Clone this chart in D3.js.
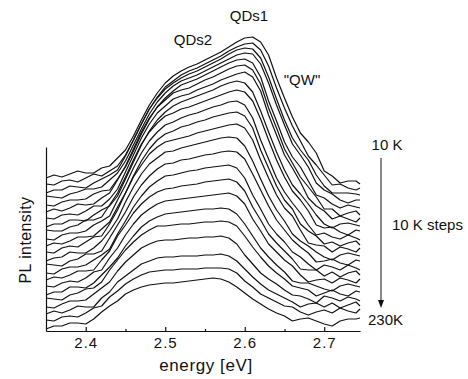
<!DOCTYPE html>
<html>
<head>
<meta charset="utf-8">
<script src="https://cdn.jsdelivr.net/npm/d3@7"></script>
<style>
body { margin: 0; background: #fff; }
svg text { font-family: "Liberation Sans", Arial, Helvetica, sans-serif; fill: #111; }
</style>
</head>
<body>
<div class="linechart"></div>
<script>
// photon energy (eV) of every sample
var energy = [2.35,2.36,2.37,2.38,2.39,2.40,2.41,2.42,2.43,2.44,2.45,2.46,2.47,2.48,2.49,2.50,2.51,2.52,2.53,2.54,2.55,2.56,2.57,2.58,2.59,2.60,2.61,2.62,2.63,2.64,2.65,2.66,2.67,2.68,2.69,2.70,2.71,2.72,2.73,2.74,2.745];

// PL spectra, already shifted up (stacked), arbitrary units
var pl10K  = [153,156,154,157,160,158,158,163,165,173,181,195,211,226,238,248,255,260,264,267,271,275,279,284,289,293,294,289,276,253,233,214,198,189,178,160,155,148,150,150,147];
var pl20K  = [147,146,150,151,149,153,157,155,160,165,176,191,207,222,234,244,250,256,260,263,267,271,275,280,284,287,288,281,265,243,223,205,190,175,166,156,146,147,143,141,143];
var pl30K  = [138,141,141,145,144,143,148,152,156,161,175,191,207,222,233,242,248,253,257,260,264,268,272,277,281,283,282,273,254,232,211,193,181,171,156,145,138,138,138,137,136];
var pl40K  = [135,134,133,137,139,142,142,144,151,158,170,186,202,217,229,238,245,250,253,256,260,264,268,272,276,278,277,267,248,226,206,187,176,164,148,141,137,131,128,131,131];
var pl50K  = [126,125,129,131,131,132,137,140,141,152,164,180,197,212,224,233,240,246,249,252,256,260,264,268,271,272,268,254,230,210,189,174,164,150,136,133,127,123,126,124,123];
var pl60K  = [119,122,120,123,127,126,127,133,138,151,165,182,199,213,224,231,238,241,243,247,251,254,258,262,265,266,261,247,223,203,182,168,154,144,134,122,122,115,118,120,116];
var pl70K  = [113,112,116,117,116,120,125,125,132,142,159,176,193,207,218,225,232,235,237,241,244,247,251,254,257,259,254,240,216,196,176,163,149,133,125,120,112,115,112,109,113];
var pl80K  = [104,107,107,111,111,110,116,121,125,135,152,169,186,200,211,219,225,229,232,235,238,241,245,248,250,248,239,220,199,179,161,146,137,127,116,107,103,107,108,106,105];
var pl90K  = [101,100,100,104,106,111,111,114,126,138,154,171,187,199,208,215,218,222,224,227,230,233,236,239,241,239,230,212,191,171,154,140,131,120,106,103,104,99,96,101,100];
var pl100K = [92,91,96,98,98,100,106,110,115,131,146,163,178,190,199,206,209,213,216,218,221,224,226,229,230,226,213,191,172,153,139,128,118,106,96,98,94,92,96,93,91];
var pl110K = [85,88,87,90,94,94,95,102,109,124,138,155,170,182,191,197,200,204,206,209,211,214,216,218,219,215,203,181,163,145,131,122,107,100,95,87,89,85,88,90,86];
var pl120K = [79,78,83,85,84,89,94,95,107,121,138,154,166,177,184,189,191,193,195,198,200,202,204,206,207,203,191,171,153,136,123,115,101,88,86,85,79,84,82,79,83];
var pl130K = [70,73,74,79,78,78,83,90,100,112,129,144,157,167,173,179,180,183,185,187,189,191,193,194,193,185,170,152,135,121,110,97,90,85,79,74,71,76,78,76,75];
var pl140K = [67,66,65,70,72,77,77,80,93,106,119,134,146,155,162,167,168,171,172,174,176,177,179,180,179,172,157,141,125,111,101,91,84,78,69,70,72,68,66,71,70];
var pl150K = [58,57,62,64,64,66,71,76,82,97,110,124,135,144,150,155,156,158,160,161,163,164,165,166,163,153,136,122,107,97,89,79,74,67,61,66,64,61,66,63,61];
var pl160K = [51,54,53,56,60,60,61,71,80,95,106,118,127,134,139,142,143,145,146,147,149,150,151,152,149,140,124,111,97,88,80,72,62,61,61,55,59,54,58,60,56];
var pl170K = [45,44,48,50,49,53,59,61,73,83,96,107,116,122,127,130,131,132,133,134,135,136,137,138,135,127,112,100,87,79,71,65,56,49,51,52,48,53,51,48,52];
var pl180K = [36,39,39,44,44,43,48,56,64,73,85,95,104,110,114,117,118,119,120,121,122,122,123,122,117,107,95,83,74,66,59,50,48,48,45,42,40,45,47,45,44];
var pl190K = [33,32,31,36,38,42,43,49,61,71,81,89,96,101,105,105,106,107,107,108,109,109,110,109,105,95,84,74,65,58,52,45,43,41,35,38,41,37,35,40,39];
var pl200K = [24,23,27,30,30,31,37,43,49,60,69,76,83,87,90,91,91,92,93,93,94,94,95,93,87,76,67,58,52,47,41,36,35,32,28,35,33,30,34,32,30];
var pl210K = [17,20,18,21,25,24,24,33,39,49,55,61,67,70,73,74,74,75,75,75,76,76,77,75,70,62,54,47,41,37,33,29,24,27,28,24,28,23,26,29,25];
var pl220K = [11,10,14,15,14,18,23,25,34,40,47,52,56,59,60,61,61,62,62,62,63,63,63,62,58,50,44,37,33,29,25,24,19,16,19,21,18,23,20,18,22];
var pl230K = [2,5,5,8,8,7,12,19,25,30,37,41,44,46,47,48,48,49,50,51,52,53,52,49,44,38,32,27,22,18,15,10,12,13,10,7,5,10,12,12,13];

var spectra = [pl10K,pl20K,pl30K,pl40K,pl50K,pl60K,pl70K,pl80K,pl90K,pl100K,pl110K,pl120K,
               pl130K,pl140K,pl150K,pl160K,pl170K,pl180K,pl190K,pl200K,pl210K,pl220K,pl230K];

var xTicks = [2.4,2.5,2.6,2.7];
var xMinorTicks = [2.45,2.55,2.65];

var w = 468;
var h = 379;

var svg = d3.select(".linechart")
            .append("svg")
            .attr("width", w)
            .attr("height", h);

var xScale = d3.scaleLinear()
               .domain([2.35, 2.745])
               .range([46, 360]);

var yScale = d3.scaleLinear()
               .domain([0, 300])
               .range([331, 31]);

var line = d3.line()
             .x(function(d, i) { return xScale(energy[i]); })
             .y(function(d) { return yScale(d); });

svg.selectAll(".spectrum")
   .data(spectra)
   .enter()
   .append("path")
   .attr("class", "spectrum")
   .attr("fill", "none")
   .attr("stroke", "#111")
   .attr("stroke-width", 1.2)
   .attr("stroke-linejoin", "round")
   .attr("d", line);

// x axis, ticks pointing inside
var xAxis = d3.axisBottom(xScale)
              .tickValues(xTicks)
              .tickFormat(d3.format(".1f"))
              .tickSize(-4)
              .tickSizeOuter(0)
              .tickPadding(6);

var gx = svg.append("g")
            .attr("class", "xAxis")
            .attr("transform", "translate(0,331)")
            .call(xAxis);

svg.append("g")
   .attr("transform", "translate(0,331)")
   .call(d3.axisBottom(xScale).tickValues(xMinorTicks).tickSize(-2).tickSizeOuter(0).tickFormat(""))
   .select(".domain").remove();

// short y axis, no labels
var yAxisScale = yScale.copy().domain([0, 184]).range([331, 147]);
svg.append("g")
   .attr("class", "yAxis")
   .attr("transform", "translate(46,0)")
   .call(d3.axisLeft(yAxisScale).tickValues([]).tickSizeOuter(0));

svg.selectAll(".domain, .tick line")
   .attr("stroke", "#111")
   .attr("stroke-width", 1.2);

gx.selectAll("text")
  .attr("font-size", 15)
  .attr("letter-spacing", 1)
  .attr("fill", "#111");

svg.append("text")
   .attr("x", 206)
   .attr("y", 371)
   .attr("text-anchor", "middle")
   .attr("font-size", 17)
   .attr("letter-spacing", 0.6)
   .text("energy [eV]");

svg.append("text")
   .attr("transform", "translate(31,240) rotate(-90)")
   .attr("text-anchor", "middle")
   .attr("font-size", 16)
   .attr("letter-spacing", 0.4)
   .text("PL intensity");

// annotations
svg.append("text").attr("x", 249).attr("y", 21).attr("text-anchor", "middle").attr("font-size", 15).text("QDs1");
svg.append("text").attr("x", 193).attr("y", 45).attr("text-anchor", "middle").attr("font-size", 15).text("QDs2");
svg.append("text").attr("x", 302).attr("y", 85).attr("text-anchor", "middle").attr("font-size", 15).text("\"QW\"");
svg.append("text").attr("x", 387).attr("y", 150).attr("text-anchor", "middle").attr("font-size", 15).text("10 K");
svg.append("text").attr("x", 392).attr("y", 230).attr("font-size", 15).text("10 K steps");
svg.append("text").attr("x", 368).attr("y", 325).attr("font-size", 15).text("230K");

svg.append("line")
   .attr("x1", 381).attr("y1", 158)
   .attr("x2", 381).attr("y2", 302)
   .attr("stroke", "#111")
   .attr("stroke-width", 1);
svg.append("path")
   .attr("d", "M378,300 L384,300 L381,308 Z")
   .attr("fill", "#111");
</script>
</body>
</html>
